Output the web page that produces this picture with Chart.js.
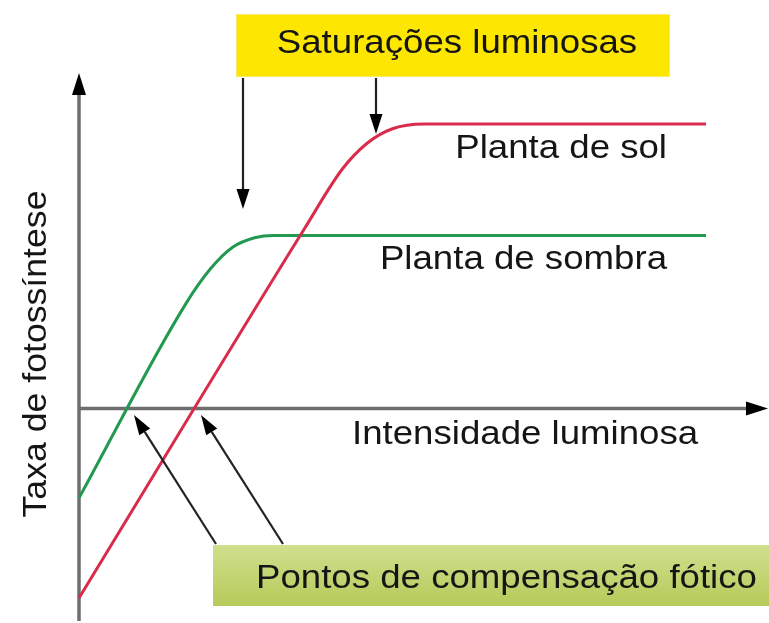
<!DOCTYPE html>
<html>
<head>
<meta charset="utf-8">
<script src="https://cdn.jsdelivr.net/npm/chart.js@4.4.0/dist/chart.umd.min.js"></script>
<style>
  html, body { margin: 0; padding: 0; background: #fff; }
  #wrap { width: 769px; height: 623px; }
</style>
</head>
<body>
<div id="wrap"><canvas id="chart"></canvas></div>
<script>
// curves (arbitrary units, 0 = compensation level)
const solX = [0, 3.6, 4.2, 4.6, 5.0, 5.5, 10];
const solY = [-4, 3.8, 5.05, 5.6, 5.9, 6, 6];
const sombraX = [0, 1.7, 2.1, 2.45, 2.8, 3.1, 10];
const sombraY = [-1.89, 2.2, 2.95, 3.4, 3.6, 3.65, 3.65];

const seriesNames = ['Planta de sol', 'Planta de sombra'];
const xTitle = 'Intensidade luminosa';
const yTitle = 'Taxa de fotossíntese';
const saturacaoText = 'Saturações luminosas';
const compensacaoText = 'Pontos de compensação fótico';

const FONT = '"Liberation Sans", Arial, sans-serif';

function toPoints(xs, ys) {
    return xs.map((x, i) => ({ x: x, y: ys[i] }));
}

function arrow(ctx, x1, y1, x2, y2, lw, color, headLen, headW) {
    let ang = Math.atan2(y2 - y1, x2 - x1);
    let bx = x2 - headLen * Math.cos(ang);
    let by = y2 - headLen * Math.sin(ang);
    ctx.strokeStyle = color;
    ctx.lineWidth = lw;
    ctx.beginPath();
    ctx.moveTo(x1, y1);
    ctx.lineTo(bx, by);
    ctx.stroke();
    ctx.fillStyle = '#000';
    ctx.beginPath();
    ctx.moveTo(x2, y2);
    ctx.lineTo(bx + headW * Math.sin(ang), by - headW * Math.cos(ang));
    ctx.lineTo(bx - headW * Math.sin(ang), by + headW * Math.cos(ang));
    ctx.closePath();
    ctx.fill();
}

// the original lettering is a bit wider than Liberation Sans, so stretch it a little
function text(ctx, str, x, y, align, stretch) {
    ctx.save();
    ctx.translate(x, y);
    ctx.scale(stretch || 1.11, 1);
    ctx.font = '33px ' + FONT;
    ctx.fillStyle = '#151515';
    ctx.textAlign = align;
    ctx.textBaseline = 'alphabetic';
    ctx.fillText(str, 0, 0);
    ctx.restore();
}

const axesPlugin = {
    id: 'axesPlugin',
    beforeDatasetsDraw(chart) {
        let ctx = chart.ctx;
        let x0 = chart.scales.x.getPixelForValue(0);
        let y0 = chart.scales.y.getPixelForValue(0);
        ctx.save();
        arrow(ctx, x0, 621, x0, 73, 3.5, '#6e6e6e', 22, 7);
        arrow(ctx, x0, y0, 768, y0, 3.5, '#6e6e6e', 22, 7);
        ctx.restore();
    },
    afterDraw(chart) {
        let ctx = chart.ctx;
        ctx.save();

        // yellow label box
        ctx.fillStyle = '#fde700';
        ctx.fillRect(236, 14, 434, 63);
        ctx.strokeStyle = '#fbe96a';
        ctx.lineWidth = 1;
        ctx.strokeRect(236.5, 14.5, 433, 62);
        text(ctx, saturacaoText, 457, 53, 'center');
        arrow(ctx, 243, 78, 243, 209, 2.2, '#222', 20, 6.5);
        arrow(ctx, 376, 78, 376, 134, 2.2, '#222', 20, 6.5);

        // green label box
        let g = ctx.createLinearGradient(0, 545, 0, 606);
        g.addColorStop(0, '#cfe08e');
        g.addColorStop(1, '#b6ca59');
        ctx.fillStyle = g;
        ctx.fillRect(213, 545, 556, 61);
        text(ctx, compensacaoText, 256, 588, 'left');
        arrow(ctx, 216, 544, 134, 415, 2.2, '#222', 20, 6.5);
        arrow(ctx, 283, 544, 201, 415, 2.2, '#222', 20, 6.5);

        // curve names and axis titles
        text(ctx, seriesNames[0], 667, 158, 'right');
        text(ctx, seriesNames[1], 667, 269, 'right');
        text(ctx, xTitle, 352, 444, 'left');

        ctx.translate(46, 354);
        ctx.rotate(-Math.PI / 2);
        text(ctx, yTitle, 0, 0, 'center', 1.08);
        ctx.restore();
    }
};

new Chart(document.getElementById('chart'), {
    type: 'scatter',
    data: {
        datasets: [
            {
                label: seriesNames[0],
                data: toPoints(solX, solY),
                showLine: true,
                borderColor: '#d92b4b',
                borderWidth: 3,
                pointRadius: 0,
                cubicInterpolationMode: 'monotone',
                clip: false
            },
            {
                label: seriesNames[1],
                data: toPoints(sombraX, sombraY),
                showLine: true,
                borderColor: '#23994f',
                borderWidth: 3,
                pointRadius: 0,
                cubicInterpolationMode: 'monotone',
                clip: false
            }
        ]
    },
    options: {
        responsive: true,
        maintainAspectRatio: false,
        animation: false,
        layout: { padding: { left: 79, right: 63, top: 124, bottom: 25 } },
        plugins: { legend: { display: false }, tooltip: { enabled: false } },
        scales: {
            x: { type: 'linear', min: 0, max: 10, display: false },
            y: { type: 'linear', min: -4, max: 6, display: false }
        }
    },
    plugins: [axesPlugin]
});
</script>
</body>
</html>
